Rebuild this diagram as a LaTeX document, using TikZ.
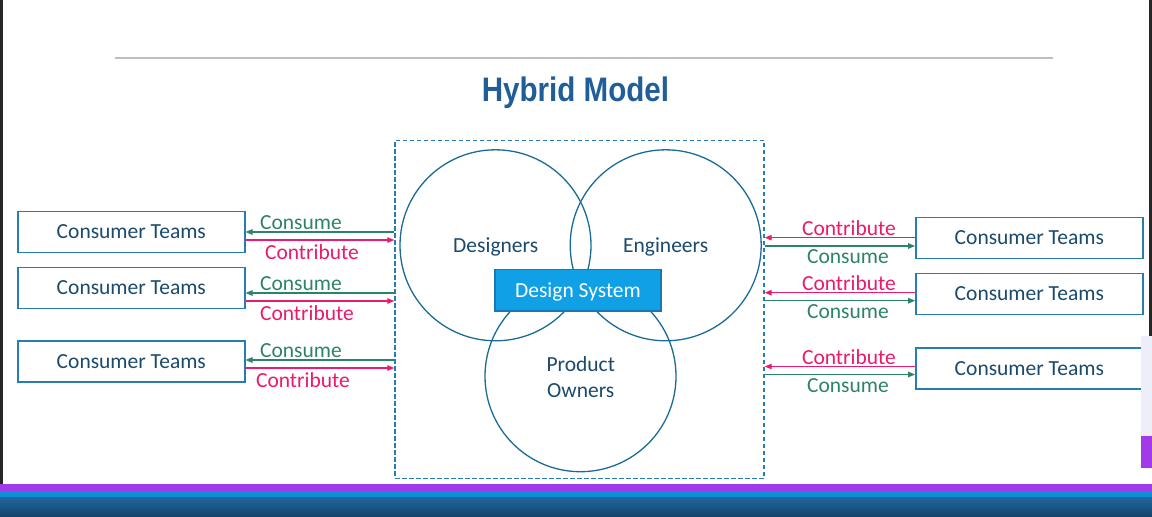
\documentclass[tikz,border=0pt]{standalone}
\usepackage{fontspec}
\setmainfont{Carlito}
\newfontfamily\titlefont{Liberation Sans}
\usetikzlibrary{arrows.meta, positioning}
\definecolor{titleblue}{RGB}{31,94,153}
\definecolor{boxblue}{RGB}{38,125,175}
\definecolor{circblue}{RGB}{26,108,150}
\definecolor{textblue}{RGB}{27,74,108}
\definecolor{consgreen}{RGB}{44,132,104}
\definecolor{contpink}{RGB}{236,26,108}
\definecolor{dsblue}{RGB}{16,160,230}
\definecolor{dsedge}{RGB}{25,120,180}
\definecolor{barpurple}{RGB}{162,58,235}
\definecolor{barblue}{RGB}{14,143,214}
\definecolor{lavender}{RGB}{238,238,251}

\begin{document}
\begin{tikzpicture}[x=1pt, y=-1pt,
    teambox/.style={draw=boxblue, line width=1.4pt, minimum width=227pt, minimum height=41pt,
      inner sep=0pt, text=textblue, text height=13.8pt, text depth=0pt, font=\fontsize{21.5}{24}\selectfont},
    venn/.style={draw=circblue, line width=1.3pt, circle, minimum size=191pt, inner sep=0pt},
    vennlabel/.style={text=textblue, align=center, text depth=0pt, font=\fontsize{21.5}{26}\selectfont},
    consumeline/.style={draw=consgreen, line width=1.2pt, -{Triangle[length=7pt, width=5.5pt]}},
    contributeline/.style={draw=contpink, line width=1.2pt, -{Triangle[length=7pt, width=5.5pt]}},
    consumelabel/.style={text=consgreen, font=\fontsize{21.5}{24}\selectfont},
    contributelabel/.style={text=contpink, font=\fontsize{21.5}{24}\selectfont},
  ]
  \useasboundingbox (0,0) rectangle (1152,517);
  \fill[white] (0,0) rectangle (1152,517);

  % slide header
  \draw[black!25, line width=1.2pt] (115,58) -- (1053,58);
  \node[text=titleblue, font=\titlefont\fontsize{34}{38}\selectfont\bfseries, xscale=0.87] (title) at (575.5,93) {Hybrid Model};

  % core team
  \node[draw=boxblue, dashed, dash pattern=on 4.5pt off 2.5pt, line width=1.4pt,
    minimum width=369pt, minimum height=338pt, inner sep=0pt] (frame) at (579.5,309.2) {};
  \node[venn] (designers) at (495.5,245.3) {};
  \node[venn] (engineers) at (665.7,245.3) {};
  \node[venn] (owners) at (580.5,376.2) {};
  \node[vennlabel, text height=13.8pt] at (495.7,245.5) {Designers};
  \node[vennlabel, text height=13.8pt] at (665.7,245.5) {Engineers};
  \node[vennlabel] at (580.8,377.2) {Product\\Owners};
  \node[draw=dsedge, fill=dsblue, line width=1.2pt, minimum width=166pt, minimum height=41.7pt,
    text height=13.8pt, text depth=0pt, text=white, font=\fontsize{21.5}{24}\selectfont] (ds) at (578,290.2) {Design System};

  % consumer teams on the left
  \foreach \n/\yb/\yc/\yt/\xt in {1/231.8/232/240/312, 2/288/293/301/307, 3/361.5/360/368/303} {
    \node[teambox] (lteam\n) at (131.3,\yb) {Consumer Teams};
    \draw[consumeline] (frame.west |- 0,\yc) -- (lteam\n.east |- 0,\yc);
    \draw[contributeline] (lteam\n.east |- 0,\yt) -- (frame.west |- 0,\yt);
    \node[consumelabel] at (301,\yc-9.3) {Consume};
    \node[contributelabel] at (\xt,\yt+12) {Contribute};
  }

  % consumer teams on the right
  \foreach \n/\yb/\yt/\yc in {1/238/237.7/246, 2/294/292.7/300.7, 3/368.3/366.5/374.5} {
    \node[teambox] (rteam\n) at (1029.3,\yb) {Consumer Teams};
    \draw[contributeline] (rteam\n.west |- 0,\yt) -- (frame.east |- 0,\yt);
    \draw[consumeline] (frame.east |- 0,\yc) -- (rteam\n.west |- 0,\yc);
    \node[contributelabel] at (849,\yt-9.5) {Contribute};
    \node[consumelabel] at (848,\yc+11) {Consume};
  }

  % screen edges and player bar
  \fill[black!85] (0,0) rectangle (3,517);
  \fill[black!85] (1149,0) rectangle (1152,336);
  \fill[lavender] (1141,336) rectangle (1152,436);
  \fill[barpurple] (1141,436) rectangle (1152,468);
  \fill[barpurple] (0,484) rectangle (1152,491);
  \fill[barblue] (0,491) rectangle (1152,497);
  \shade[top color={rgb,255:red,31;green,104;blue,162}, bottom color={rgb,255:red,22;green,66;blue,104}]
    (0,497) rectangle (1152,517);
\end{tikzpicture}
\end{document}
